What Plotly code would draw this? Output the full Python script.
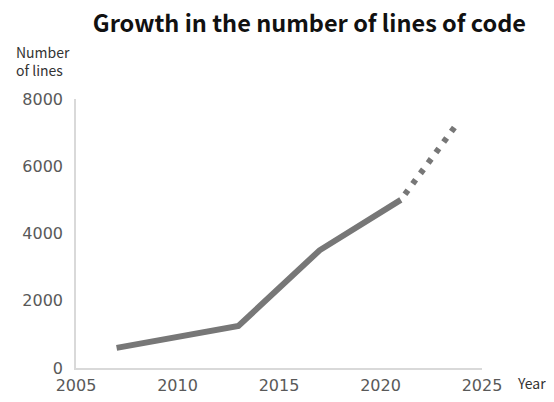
import plotly.graph_objects as go

# actual counts
years = [2007, 2013, 2017, 2021]
lines_of_code = [600, 1250, 3500, 5000]

# projection (dotted)
proj_years = [2021, 2023.7]
proj_lines = [5000, 7200]

x_ticks = [2005, 2010, 2015, 2020, 2025]
y_ticks = [0, 2000, 4000, 6000, 8000]

LINE_COLOR = '#777777'
AXIS_COLOR = '#d9d9d9'
TICK_FONT = dict(family='DejaVu Sans', size=16, color='#595959')
LABEL_FONT = dict(family='Noto Sans CJK JP', size=14, color='#333333')

fig = go.Figure()
fig.add_trace(go.Scatter(x=years, y=lines_of_code, mode='lines',
                         line=dict(color=LINE_COLOR, width=6),
                         showlegend=False, hoverinfo='skip'))
fig.add_trace(go.Scatter(x=proj_years, y=proj_lines, mode='lines',
                         line=dict(color=LINE_COLOR, width=6, dash='0px,7px,5px,1px'),
                         showlegend=False, hoverinfo='skip'))

# page body has an 8px margin, so the margins are shifted by 8px
fig.update_layout(
    width=554, height=402,
    margin=dict(l=68, r=80, t=91, b=42),
    plot_bgcolor='white', paper_bgcolor='white',
    title=dict(text='<b>Growth in the number of lines of code</b>',
               x=0.544, xanchor='center', y=0.962, yanchor='middle',
               font=dict(family='Noto Sans CJK JP', size=23.5, color='#111111')),
    xaxis=dict(range=[2005, 2025], tickvals=x_ticks, showgrid=False, zeroline=False,
               showline=True, linecolor=AXIS_COLOR, linewidth=1.5,
               tickfont=TICK_FONT, ticks='', ticklabelstandoff=2),
    yaxis=dict(range=[0, 8000], tickvals=y_ticks, showgrid=False, zeroline=False,
               showline=True, linecolor=AXIS_COLOR, linewidth=1.5,
               tickfont=TICK_FONT, ticks='', ticklabelstandoff=8),
    annotations=[
        dict(text='Number<br>of lines', xref='paper', yref='paper', x=-0.153, y=1.14,
             xanchor='left', yanchor='middle', align='left', showarrow=False,
             font=LABEL_FONT),
        dict(text='Year', xref='paper', yref='paper', x=1.081, y=-0.056,
             xanchor='left', yanchor='middle', showarrow=False,
             font=LABEL_FONT),
    ],
)

fig.write_html('out.html')
